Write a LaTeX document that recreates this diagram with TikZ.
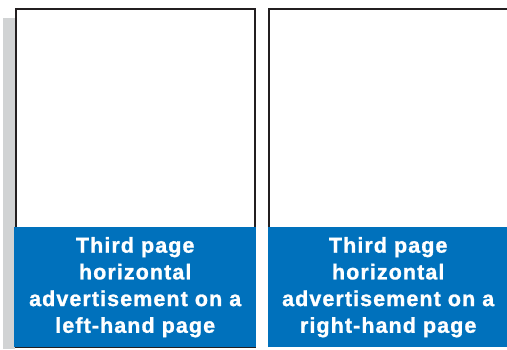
\documentclass[tikz,border=0pt]{standalone}
\usepackage{fontspec}
\newfontfamily\adfont{Liberation Sans}[LetterSpace=5, BoldFeatures={FakeBold=1.2}]
\definecolor{adblue}{HTML}{0071BC}
\definecolor{pageline}{HTML}{231F20}
\definecolor{shadowgray}{HTML}{D1D3D4}

\begin{document}
\begin{tikzpicture}[x=1pt, y=-1pt,
    every node/.style={font=\adfont\bfseries\fontsize{21.5}{26.7}\selectfont},
    adbox/.style={rectangle, fill=adblue, text=white, align=center, inner sep=0pt, minimum height=120pt},
    page/.style={draw=pageline, line width=2.8pt}]

  \useasboundingbox (0,0) rectangle (507,349);

  % shadow and page frames
  \fill[shadowgray] (3,18) rectangle (15,349);
  \draw[page] (16,347) rectangle (255,9);
  \draw[page] (269,347) |- (508,9);

  \node[adbox, minimum width=242pt, anchor=north west] (leftad) at (14,227) {Third page\\horizontal\\advertisement on a\\left-hand page};
  \node[adbox, minimum width=240pt, anchor=north west] (rightad) at (268,227) {Third page\\horizontal\\advertisement on a\\right-hand page};
\end{tikzpicture}
\end{document}
